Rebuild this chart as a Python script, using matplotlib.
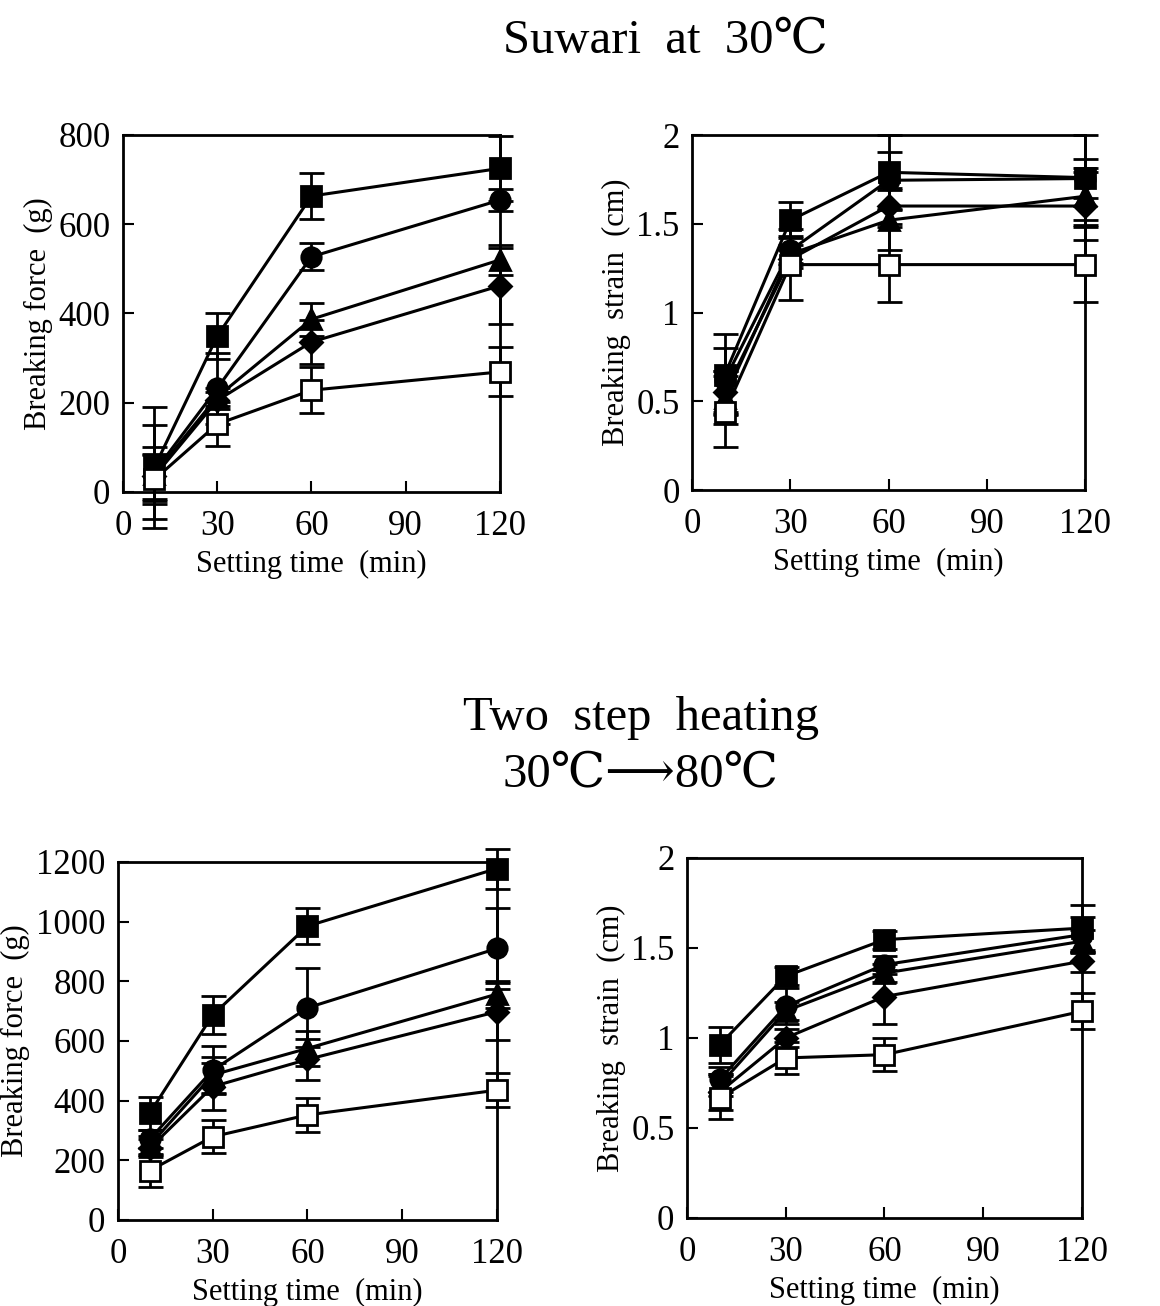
import matplotlib
matplotlib.use("Agg")
import matplotlib.pyplot as plt
import numpy as np

plt.rcParams['font.family'] = ['Liberation Serif', 'DejaVu Serif', 'Noto Sans CJK JP']

# Tempo de assentamento (min)
tempos = [10, 30, 60, 120]

# Ordem das séries: quadrado cheio, círculo, triângulo, losango, quadrado vazio
# Força de ruptura - Suwari a 30 C
forca_suwari = [[55, 349, 663, 725],
                [45, 232, 527, 654],
                [40, 213, 387, 520],
                [35, 205, 336, 462],
                [28, 152, 228, 269]]
forca_suwari_err = [[135, 52, 51, 72],
                    [105, 80, 30, 25],
                    [60, 20, 37, 33],
                    [50, 20, 50, 85],
                    [55, 50, 52, 55]]

# Deformação de ruptura - Suwari a 30 C
def_suwari = [[0.65, 1.52, 1.79, 1.76],
              [0.62, 1.35, 1.745, 1.755],
              [0.52, 1.33, 1.52, 1.655],
              [0.55, 1.30, 1.60, 1.60],
              [0.44, 1.27, 1.27, 1.27]]
def_suwari_err = [[0.23, 0.10, 0.21, 0.24],
                  [0.18, 0.08, 0.16, 0.11],
                  [0.15, 0.05, 0.17, 0.16],
                  [0.12, 0.05, 0.10, 0.19],
                  [0.20, 0.20, 0.21, 0.21]]

# Força de ruptura - aquecimento em duas etapas
forca_duas = [[357, 687, 985, 1178],
              [270, 502, 711, 910],
              [250, 486, 575, 757],
              [240, 447, 538, 698],
              [165, 279, 352, 435]]
forca_duas_err = [[55, 63, 60, 67],
                  [30, 80, 132, 135],
                  [30, 60, 60, 45],
                  [30, 80, 70, 95],
                  [53, 56, 56, 57]]

# Deformação de ruptura - aquecimento em duas etapas
def_duas = [[0.963, 1.343, 1.546, 1.61],
            [0.77, 1.176, 1.407, 1.574],
            [0.74, 1.15, 1.36, 1.537],
            [0.70, 1.00, 1.23, 1.426],
            [0.667, 0.889, 0.907, 1.148]]
def_duas_err = [[0.10, 0.05, 0.05, 0.13],
                [0.07, 0.10, 0.05, 0.10],
                [0.06, 0.05, 0.05, 0.06],
                [0.10, 0.05, 0.15, 0.06],
                [0.12, 0.09, 0.09, 0.10]]

marcadores = ['s', 'o', '^', 'D', 's']
tamanhos = [15, 14, 14, 11, 15]
faces = ['black', 'black', 'black', 'black', 'white']


def painel(ax, dados, erros, ymax, yticks, yticklabels, ylabel):
    for i in range(5):
        cont = ax.errorbar(tempos, dados[i], yerr=erros[i], color='black',
                           marker=marcadores[i], markersize=tamanhos[i],
                           markerfacecolor=faces[i], markeredgecolor='black',
                           markeredgewidth=2, linewidth=2.2, elinewidth=2,
                           capsize=9, capthick=2, zorder=3 + i)
        for filho in cont.get_children():
            filho.set_clip_on(False)
    ax.set_xlim(0, 120)
    ax.set_ylim(0, ymax)
    ax.set_xticks([0, 30, 60, 90, 120])
    ax.set_yticks(yticks)
    ax.set_yticklabels(yticklabels)
    ax.tick_params(direction='in', length=8, width=1.5, labelsize=25)
    ax.tick_params(axis='x', pad=13)
    ax.tick_params(axis='y', pad=9)
    for s in ax.spines.values():
        s.set_linewidth(2)
    ax.set_xlabel("Setting time  (min)", fontsize=22, labelpad=5)
    ax.set_ylabel(ylabel, fontsize=22, labelpad=4)


fig = plt.figure(figsize=(11.6, 13.06), dpi=100)

ax1 = fig.add_axes([0.106, 0.6233, 0.325, 0.2734])
painel(ax1, forca_suwari, forca_suwari_err, 800, [0, 200, 400, 600, 800],
       ['0', '200', '400', '600', '800'], "Breaking force  (g)")

ax2 = fig.add_axes([0.5966, 0.6248, 0.3388, 0.2718])
painel(ax2, def_suwari, def_suwari_err, 2, [0, 0.5, 1, 1.5, 2],
       ['0', '0.5', '1', '1.5', '2'], "Breaking  strain  (cm)")

ax3 = fig.add_axes([0.1017, 0.0659, 0.3267, 0.2741])
painel(ax3, forca_duas, forca_duas_err, 1200, [0, 200, 400, 600, 800, 1000, 1200],
       ['0', '200', '400', '600', '800', '1000', '1200'], "Breaking force  (g)")

ax4 = fig.add_axes([0.5922, 0.0674, 0.3405, 0.2757])
painel(ax4, def_duas, def_duas_err, 2, [0, 0.5, 1, 1.5, 2],
       ['0', '0.5', '1', '1.5', '2'], "Breaking  strain  (cm)")

fig.text(0.574, 0.969, "Suwari  at  30℃", fontsize=35, ha='center', va='center')
fig.text(0.553, 0.450, "Two  step  heating", fontsize=35, ha='center', va='center')
fig.text(0.552, 0.407, "30℃⟶80℃", fontsize=35, ha='center', va='center')

plt.savefig("out.png", dpi=100)
